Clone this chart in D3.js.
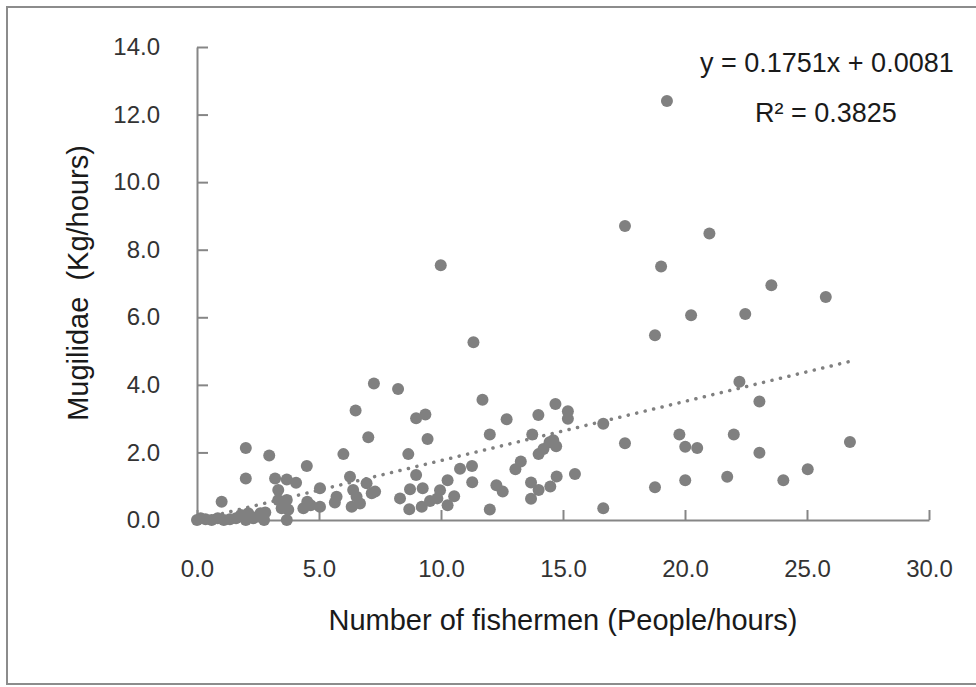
<!DOCTYPE html>
<html>
<head>
<meta charset="utf-8">
<script src="https://cdn.jsdelivr.net/npm/d3@7"></script>
<style>
  body { margin: 0; background: #fff; }
  .axis path, .axis line { stroke: #868686; stroke-width: 2; }
  .axis text { font-family: "Liberation Sans", Arial, sans-serif; font-size: 24px; fill: #333; }
  .title { font-family: "Liberation Sans", Arial, sans-serif; font-size: 29px; fill: #1a1a1a; white-space: pre; }
  .eq { font-family: "Liberation Sans", Arial, sans-serif; font-size: 27px; fill: #1a1a1a; }
</style>
</head>
<body>
<div id="chart"></div>
<script>
/// values
var fishermen = [0.00, 0.15, 0.35, 0.60, 0.85, 1.10, 1.35, 1.60, 1.80, 2.00, 2.10, 2.30, 2.50, 2.60, 2.80, 2.75,
  1.01, 2.00, 2.96, 2.00, 3.20, 3.68, 4.06, 3.33, 3.33, 3.68, 3.47, 3.74, 3.68,
  4.50, 5.04, 4.52, 4.36, 4.66, 5.04, 5.72, 5.65,
  6.00, 6.27, 6.40, 6.54, 6.34, 6.68, 6.50, 7.02, 7.25, 6.95, 7.16, 7.30,
  8.24, 8.98, 9.36, 9.45, 8.66, 8.98, 8.32, 8.70, 8.73, 9.25, 9.21, 9.55, 9.85, 9.96, 10.27, 10.27, 10.54, 10.78, 11.27, 11.28,
  9.99, 11.33, 11.70, 12.00, 12.69, 13.99, 14.69, 15.20, 15.20, 13.74,
  12.00, 12.27, 12.53, 13.05, 13.27, 13.69, 13.69, 14.00, 14.48, 14.74, 15.49, 16.65, 16.65,
  14.00, 14.20, 14.45, 14.72, 14.60,
  17.54, 17.54, 18.77, 18.77, 19.02, 19.26, 19.77, 20.01, 20.01, 20.25, 20.50, 21.00, 21.73, 22.00, 22.23, 22.47,
  23.05, 23.05, 23.54, 24.03, 25.03, 25.77, 26.76];
var mugilidae = [0.00, 0.05, 0.02, 0.00, 0.05, 0.00, 0.02, 0.05, 0.15, 0.00, 0.20, 0.05, 0.10, 0.20, 0.22, 0.00,
  0.54, 2.13, 1.91, 1.23, 1.23, 1.20, 1.10, 0.89, 0.59, 0.59, 0.35, 0.30, 0.00,
  1.60, 0.94, 0.54, 0.35, 0.44, 0.39, 0.69, 0.52,
  1.95, 1.28, 0.89, 0.69, 0.39, 0.49, 3.24, 2.45, 4.04, 1.09, 0.79, 0.84,
  3.88, 3.01, 3.12, 2.40, 1.95, 1.33, 0.64, 0.32, 0.91, 0.94, 0.39, 0.56, 0.64, 0.88, 1.18, 0.44, 0.70, 1.52, 1.60, 1.12,
  7.54, 5.26, 3.56, 2.53, 2.98, 3.11, 3.43, 3.22, 3.00, 2.53,
  0.31, 1.03, 0.84, 1.50, 1.73, 1.11, 0.63, 0.89, 0.99, 1.29, 1.36, 0.35, 2.85,
  1.95, 2.10, 2.30, 2.18, 2.36,
  8.70, 2.27, 5.47, 0.97, 7.50, 12.40, 2.53, 2.17, 1.18, 6.06, 2.13, 8.48, 1.28, 2.53, 4.09, 6.10,
  3.51, 1.99, 6.95, 1.18, 1.50, 6.60, 2.31];

var xTicks = [0, 5, 10, 15, 20, 25, 30];
var yTicks = [0, 2, 4, 6, 8, 10, 12, 14];

var trendSlope = 0.1751;
var trendIntercept = 0.0081;
var equationLabel = "y = 0.1751x + 0.0081";
var r2Label = "R\u00b2 = 0.3825";
var xTitle = "Number of fishermen (People/hours)";
var yTitle = "Mugilidae  (Kg/hours)";

var WIDTH = 976, HEIGHT = 687;
var PLOT = { LEFT: 197, RIGHT: 929, TOP: 47, BOTTOM: 520 };

var svg = d3.select("#chart").append("svg")
  .attr("width", WIDTH)
  .attr("height", HEIGHT);

/// outer frame
svg.append("rect")
  .attr("x", 7)
  .attr("y", 7)
  .attr("width", 990)
  .attr("height", 677)
  .attr("fill", "none")
  .attr("stroke", "#8c8c8c")
  .attr("stroke-width", 2);

var xScale = d3.scaleLinear().domain([0, 30]).range([PLOT.LEFT, PLOT.RIGHT]);
var yScale = d3.scaleLinear().domain([0, 14]).range([PLOT.BOTTOM, PLOT.TOP]);

var xAxisCall = d3.axisBottom(xScale)
  .tickValues(xTicks)
  .tickFormat(d3.format(".1f"))
  .tickSizeInner(-10)
  .tickSizeOuter(0)
  .tickPadding(40);

var yAxisCall = d3.axisLeft(yScale)
  .tickValues(yTicks)
  .tickFormat(d3.format(".1f"))
  .tickSizeInner(-11)
  .tickSizeOuter(0)
  .tickPadding(37);

svg.append("g")
  .attr("class", "x axis")
  .attr("transform", "translate(0," + PLOT.BOTTOM + ")")
  .call(xAxisCall);

svg.append("g")
  .attr("class", "y axis")
  .attr("transform", "translate(" + PLOT.LEFT + ",0)")
  .call(yAxisCall);

svg.selectAll(".axis text").attr("fill", null);

/// points
svg.append("g")
  .selectAll("circle")
  .data(fishermen)
  .enter().append("circle")
  .attr("cx", d => xScale(d))
  .attr("cy", (d, i) => yScale(mugilidae[i]))
  .attr("r", 6)
  .attr("fill", "#808080");

/// linear trendline, dotted
var maxX = d3.max(fishermen);
var trendLine = d3.line()
  .x(d => xScale(d))
  .y(d => yScale(trendSlope * d + trendIntercept));

svg.append("path")
  .datum([0, maxX])
  .attr("fill", "none")
  .attr("stroke", "#808080")
  .attr("stroke-width", 3.5)
  .attr("stroke-linecap", "round")
  .attr("stroke-dasharray", "0.1 8.6")
  .attr("d", trendLine);

/// titles
svg.append("text")
  .attr("class", "title")
  .attr("x", (PLOT.LEFT + PLOT.RIGHT) / 2)
  .attr("y", 630)
  .attr("text-anchor", "middle")
  .text(xTitle);

svg.append("text")
  .attr("class", "title")
  .attr("transform", "translate(88,283) rotate(-90)")
  .attr("text-anchor", "middle")
  .text(yTitle);

/// regression label
svg.append("text")
  .attr("class", "eq")
  .attr("x", 700)
  .attr("y", 72)
  .text(equationLabel);

svg.append("text")
  .attr("class", "eq")
  .attr("x", 755)
  .attr("y", 122)
  .text(r2Label);
</script>
</body>
</html>
